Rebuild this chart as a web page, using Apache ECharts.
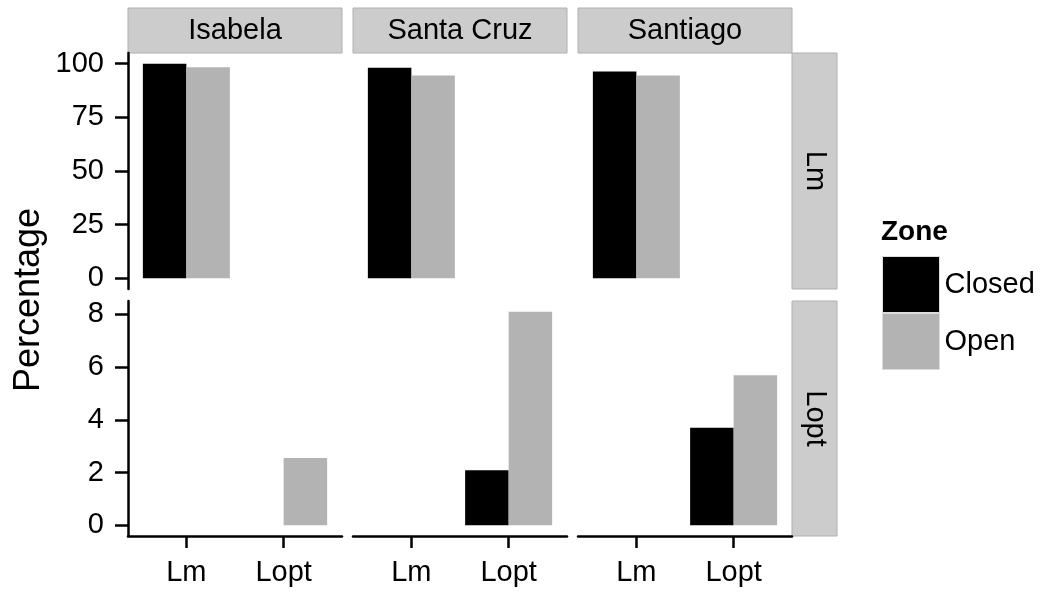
<!DOCTYPE html>
<html>
<head>
<meta charset="utf-8">
<script src="https://cdn.jsdelivr.net/npm/echarts@6/dist/echarts.min.js"></script>
<style>
html,body{margin:0;padding:0;background:#fff;}
#chart{width:1050px;height:593px;}
</style>
</head>
<body>
<div id="chart"></div>
<script>
// ---- data ----
const islands = ['Isabela', 'Santa Cruz', 'Santiago'];
const rowFacets = ['Lm', 'Lopt'];
const categories = ['Lm', 'Lopt'];
const zones = ['Closed', 'Open'];
// top row (Lm facet), values at x = Lm
const closedLm = [100, 98.1, 96.4];
const openLm = [98.4, 94.5, 94.5];
// bottom row (Lopt facet), values at x = Lopt
const closedLopt = [0, 2.09, 3.70];
const openLopt = [2.55, 8.1, 5.69];
const yTicksTop = [0, 25, 50, 75, 100];
const yTicksBottom = [0, 2, 4, 6, 8];

// ---- layout ----
const FONT = '"Liberation Sans", Arial, Helvetica, sans-serif';
const colX = [128, 353, 578];
const panelW = 214;
const rowY = [53, 301];
const rowH = [236, 235];
const colors = {Closed: '#000000', Open: '#b3b3b3'};

const rowData = [
  {closed: closedLm, open: openLm, x: 1, ticks: yTicksTop},
  {closed: closedLopt, open: openLopt, x: 2, ticks: yTicksBottom}
];

const grids = [], xAxes = [], yAxes = [], series = [];
let gi = 0;
for (let r = 0; r < 2; r++) {
  const rd = rowData[r];
  const vmax = Math.max(...rd.closed, ...rd.open);
  const ymin = -0.05 * vmax, ymax = 1.05 * vmax;
  for (let c = 0; c < 3; c++) {
    grids.push({left: colX[c], top: rowY[r], width: panelW, height: rowH[r], containLabel: false});
    const bottom = r === 1;
    xAxes.push({
      type: 'value', gridIndex: gi, min: 0.4, max: 2.6, position: 'bottom',
      splitLine: {show: false},
      axisLine: {show: bottom, onZero: false, lineStyle: {color: '#000', width: 2.5}},
      axisTick: {show: bottom, customValues: [1, 2], length: 12, lineStyle: {color: '#000', width: 2.5}},
      axisLabel: {show: bottom, customValues: [1, 2], margin: 22, color: '#000', fontSize: 29, fontFamily: FONT,
                  formatter: v => categories[Math.round(v) - 1]}
    });
    const left = c === 0;
    yAxes.push({
      type: 'value', gridIndex: gi, min: ymin, max: ymax,
      splitLine: {show: false},
      axisLine: {show: left, onZero: false, lineStyle: {color: '#000', width: 2.5}},
      axisTick: {show: left, customValues: rd.ticks, length: 13, lineStyle: {color: '#000', width: 2.5}},
      axisLabel: {show: left, customValues: rd.ticks, margin: 24, color: '#000', fontSize: 29, fontFamily: FONT,
                  formatter: v => String(Math.round(v))}
    });
    series.push({
      name: 'Closed', type: 'bar', xAxisIndex: gi, yAxisIndex: gi,
      data: [[rd.x, rd.closed[c]]], barWidth: 43.5, barGap: '0%',
      itemStyle: {color: colors.Closed}, silent: true
    });
    series.push({
      name: 'Open', type: 'bar', xAxisIndex: gi, yAxisIndex: gi,
      data: [[rd.x, rd.open[c]]], barWidth: 43.5, barGap: '0%',
      itemStyle: {color: colors.Open}, silent: true
    });
    gi++;
  }
}

// strips
const graphics = [];
const stripFill = '#cccccc', stripStroke = '#b0b0b0';
for (let c = 0; c < 3; c++) {
  graphics.push({type: 'rect', shape: {x: colX[c], y: 8, width: panelW, height: 45},
    style: {fill: stripFill, stroke: stripStroke, lineWidth: 1}});
  graphics.push({type: 'text', x: colX[c] + panelW / 2, y: 31,
    style: {text: islands[c], fill: '#000', font: '29px ' + FONT, align: 'center', verticalAlign: 'middle'}});
}
for (let r = 0; r < 2; r++) {
  graphics.push({type: 'rect', shape: {x: colX[2] + panelW, y: rowY[r], width: 45, height: rowH[r]},
    style: {fill: stripFill, stroke: stripStroke, lineWidth: 1}});
  graphics.push({type: 'text', x: colX[2] + panelW + 22.5, y: rowY[r] + rowH[r] / 2, rotation: -Math.PI / 2,
    style: {text: rowFacets[r], fill: '#000', font: '29px ' + FONT, align: 'center', verticalAlign: 'middle'}});
}
// y axis title
graphics.push({type: 'text', x: 29, y: 300, rotation: Math.PI / 2,
  style: {text: 'Percentage', fill: '#000', font: '36px ' + FONT, align: 'center', verticalAlign: 'middle'}});

const chart = echarts.init(document.getElementById('chart'), null, {renderer: 'canvas'});
chart.setOption({
  backgroundColor: '#ffffff',
  animation: false,
  title: {text: 'Zone', left: 881, top: 218, padding: 0,
    textStyle: {fontSize: 28, fontWeight: 'bold', color: '#000', fontFamily: FONT}},
  legend: {
    data: zones, orient: 'vertical', left: 882, top: 256, padding: 0,
    itemWidth: 57, itemHeight: 56, itemGap: 0, icon: 'rect',
    itemStyle: {borderColor: '#dcdcdc', borderWidth: 1},
    textStyle: {fontSize: 29, color: '#000', fontFamily: FONT},
    selectedMode: false
  },
  grid: grids, xAxis: xAxes, yAxis: yAxes, series: series,
  graphic: graphics
});
</script>
</body>
</html>
